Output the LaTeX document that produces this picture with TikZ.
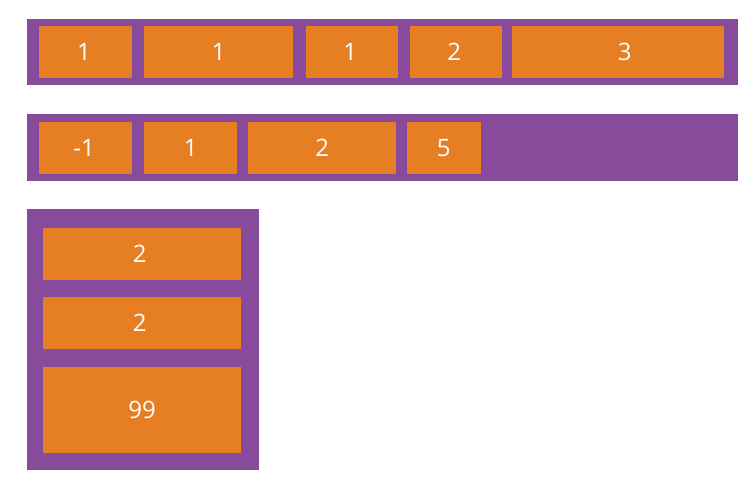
\documentclass[tikz,border=0pt]{standalone}
\usepackage{fontspec}
\setmainfont{Open Sans}
\usetikzlibrary{positioning}
\definecolor{boxpurple}{HTML}{884A9B}
\definecolor{itemorange}{HTML}{E67F24}

\begin{document}
\begin{tikzpicture}[x=1pt, y=-1pt,
  container/.style={fill=boxpurple, inner sep=0pt, outer sep=0pt, anchor=north west},
  item/.style={fill=itemorange, text=white, inner sep=0pt, outer sep=0pt, anchor=north west,
    minimum height=52pt, font=\fontsize{24}{28}\selectfont}]
  \useasboundingbox (0,0) rectangle (751,480);

  % first row
  \node[container, minimum width=710.7pt, minimum height=66pt] (row1) at (27,19) {};
  \node[item, minimum width=93pt] (a1) at (39,26) {1\hspace*{3pt}};
  \node[item, minimum width=148.7pt] (a2) at (144.3,26) {1};
  \node[item, minimum width=92.3pt] (a3) at (306,26) {1\hspace*{4pt}};
  \node[item, minimum width=92.3pt] (a4) at (409.7,26) {2\hspace*{3pt}};
  \node[item, minimum width=212.3pt] (a5) at (512,26) {\hspace*{13pt}3};

  % second row
  \node[container, minimum width=710.7pt, minimum height=66.7pt] (row2) at (27,114.3) {};
  \node[item, minimum width=93pt] (b1) at (39,122) {-1\hspace*{3pt}};
  \node[item, minimum width=92.7pt] (b2) at (144.3,122) {1};
  \node[item, minimum width=148.3pt] (b3) at (248,122) {2};
  \node[item, minimum width=73.7pt] (b4) at (407,122) {5};

  % column
  \node[container, minimum width=232.3pt, minimum height=260.7pt] (col) at (27,209.3) {};
  \node[item, minimum width=197.7pt] (c1) at (43.3,228) {2\hspace*{5pt}};
  \node[item, minimum width=197.7pt] (c2) at (43.3,296.7) {2\hspace*{5pt}};
  \node[item, minimum width=197.7pt, minimum height=86.3pt] (c3) at (43.3,366.7) {99};
\end{tikzpicture}
\end{document}
